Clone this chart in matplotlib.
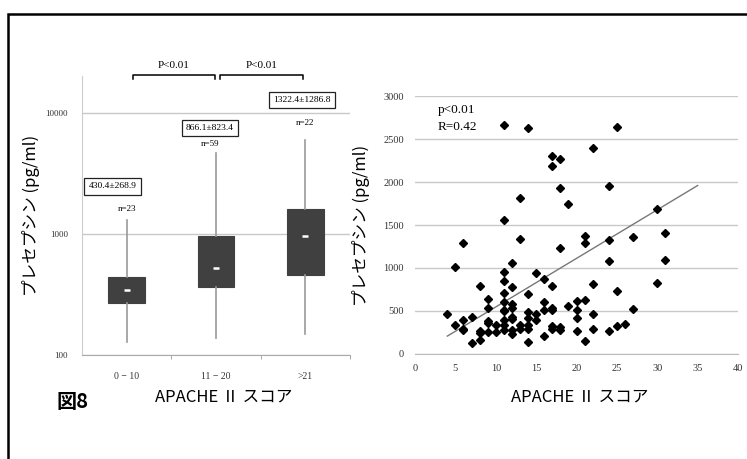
import matplotlib
matplotlib.use("Agg")
import matplotlib.pyplot as plt
import numpy as np

plt.rcParams['font.family'] = ['Noto Sans CJK JP', 'DejaVu Sans']

# box plot data (presepsin by APACHE II group)
groups = ['0 − 10', '11 − 20', '>21']
q1 = [266, 366, 460]
med = [344, 523, 955]
q3 = [443, 950, 1611]
whis_lo = [129, 139, 150]
whis_hi = [1289, 4656, 5929]
mean_sd = ['430.4±268.9', '866.1±823.4', '1322.4±1286.8']
n_labels = ['n=23', 'n=59', 'n=22']

# scatter data
apache = [4, 5, 5, 6, 6, 6, 6, 7, 7, 8, 8, 8, 8, 9, 9, 9, 9, 9, 10, 10,
          11, 11, 11, 11, 11, 11, 11, 11, 11, 11, 11,
          12, 12, 12, 12, 12, 12, 12, 12, 13, 13, 13, 13,
          14, 14, 14, 14, 14, 14, 14, 15, 15, 15, 16, 16, 16, 16,
          17, 17, 17, 17, 17, 17, 17, 18, 18, 18, 18, 18, 19, 19,
          20, 20, 20, 20, 21, 21, 21, 21, 22, 22, 22, 22,
          24, 24, 24, 24, 25, 25, 25, 26, 27, 27, 30, 30, 31, 31]
presepsin = [460, 335, 1015, 1290, 400, 296, 277, 430, 130, 785, 265, 246, 162,
             640, 538, 385, 365, 258, 342, 258,
             2665, 1555, 958, 854, 708, 604, 515, 500, 392, 342, 277,
             1054, 777, 577, 538, 431, 408, 277, 231, 1819, 1342, 335, 296,
             2623, 692, 488, 423, 335, 285, 138, 946, 462, 400, 873, 604, 515, 208,
             2300, 2181, 792, 538, 508, 323, 296, 2273, 1935, 1238, 315, 277, 1750, 558,
             612, 515, 423, 269, 1377, 1285, 631, 154, 2396, 815, 462, 292,
             1950, 1327, 1085, 273, 2642, 727, 331, 354, 1362, 523, 1681, 823, 1404, 1092]
trend_range = [4, 35]
trend_slope = 56.5
trend_intercept = -18

serif = 'Liberation Serif'

fig = plt.figure(figsize=(7.47, 4.59), dpi=100)

# outer frame
fig.patches.append(plt.Rectangle((8 / 747, -0.1), 1.0, 1 - 14 / 459 + 0.1,
                                 transform=fig.transFigure, fill=False,
                                 edgecolor='black', linewidth=1.8))

# ---- left: box plot ----
ax1 = fig.add_axes([0.1098, 0.2266, 0.3588, 0.6078])
pos = np.arange(len(groups))
stats = [dict(med=med[i], q1=q1[i], q3=q3[i], whislo=whis_lo[i], whishi=whis_hi[i], fliers=[])
         for i in range(len(groups))]
ax1.bxp(stats, positions=pos, widths=0.41, patch_artist=True, showcaps=False,
        boxprops=dict(facecolor='#404040', edgecolor='#404040', linewidth=0.8),
        whiskerprops=dict(color='#999999', linewidth=1.2),
        medianprops=dict(linewidth=0), zorder=3)
ax1.plot(pos, med, linestyle='none', marker='_', markersize=4.5, mew=1.8, color='white', zorder=4)
ax1.set_yscale('log')
ax1.set_ylim(100, 20000)
ax1.set_xlim(-0.5, 2.5)
ax1.set_yticks([100, 1000, 10000])
ax1.set_yticklabels(['100', '1000', '10000'], fontfamily=serif, fontsize=6.5, color='#333333')
ax1.yaxis.set_minor_locator(matplotlib.ticker.NullLocator())
ax1.set_xticks(pos)
ax1.set_xticklabels(groups, fontfamily=serif, fontsize=7, color='#333333')
ax1.set_xticks([0.5, 1.5, 2.5], minor=True)
ax1.tick_params(axis='x', which='major', length=0, pad=12)
ax1.tick_params(axis='x', which='minor', length=3, color='#999999', direction='out')
ax1.tick_params(axis='y', length=0, pad=10)
ax1.grid(axis='y', color='#c8c8c8', linewidth=1.0)
ax1.set_axisbelow(True)
for s in ['top', 'right']:
    ax1.spines[s].set_visible(False)
ax1.spines['left'].set_color('#cccccc')
ax1.spines['bottom'].set_color('#aaaaaa')
ax1.set_ylabel('プレセプシン (pg/ml)', fontsize=12)
ax1.yaxis.set_label_coords(-0.157, 0.5)

# mean±SD boxes and n
label_x = [-0.16, 0.93, 1.96]
label_y = [2460, 7480, 12650]
n_x = [0, 0.93, 2.0]
n_y = [1590, 5470, 8170]
for i in range(len(groups)):
    ax1.text(label_x[i], label_y[i], mean_sd[i], fontfamily=serif, fontsize=6.8,
             ha='center', va='center',
             bbox=dict(boxstyle='square,pad=0.45', fc='white', ec='#222222', lw=0.9))
    ax1.text(n_x[i], n_y[i], n_labels[i], fontfamily=serif, fontsize=6.5,
             ha='center', va='center')

# significance brackets
for xa, xb in [(0.07, 0.985), (1.04, 1.97)]:
    ax1.plot([xa, xa, xb, xb], [18900, 20500, 20500, 18900], color='black', lw=1.1, clip_on=False)
    ax1.text((xa + xb) / 2, 24500, 'P<0.01', fontfamily=serif, fontsize=8,
             ha='center', va='center')

fig.text(224 / 747, 1 - 397 / 459, 'APACHE Ⅱ スコア', fontsize=12, ha='center', va='center')
fig.text(72 / 747, 1 - 402 / 459, '図8', fontsize=14.5, fontweight='bold', ha='center', va='center')

# ---- right: scatter ----
ax2 = fig.add_axes([0.5556, 0.2288, 0.4324, 0.562])
ax2.plot(apache, presepsin, linestyle='none', marker='D', markersize=3.8, color='black', zorder=3)
tx = np.array(trend_range)
ax2.plot(tx, trend_slope * tx + trend_intercept, color='#777777', lw=1.0, zorder=2)
ax2.set_xlim(0, 40)
ax2.set_ylim(0, 3000)
ax2.set_xticks(range(0, 41, 5))
ax2.set_yticks(range(0, 3001, 500))
ax2.set_xticklabels([str(v) for v in range(0, 41, 5)], fontfamily=serif, fontsize=7.5, color='#333333')
ax2.set_yticklabels([str(v) for v in range(0, 3001, 500)], fontfamily=serif, fontsize=7.5, color='#333333')
ax2.tick_params(length=0)
ax2.tick_params(axis='x', pad=7)
ax2.tick_params(axis='y', pad=8)
ax2.grid(axis='y', color='#c8c8c8', linewidth=1.0)
ax2.set_axisbelow(True)
for s in ['top', 'right', 'left']:
    ax2.spines[s].set_visible(False)
ax2.spines['bottom'].set_color('#bbbbbb')
ax2.set_ylabel('プレセプシン (pg/ml)', fontsize=12)
ax2.yaxis.set_label_coords(-0.139, 0.5)
ax2.text(0.07, 0.945, 'p<0.01', transform=ax2.transAxes, fontfamily=serif, fontsize=9.5, va='center')
ax2.text(0.07, 0.88, 'R=0.42', transform=ax2.transAxes, fontfamily=serif, fontsize=9.5, va='center')

fig.text(580 / 747, 1 - 397 / 459, 'APACHE Ⅱ スコア', fontsize=12, ha='center', va='center')

fig.savefig('out.png', dpi=100)
